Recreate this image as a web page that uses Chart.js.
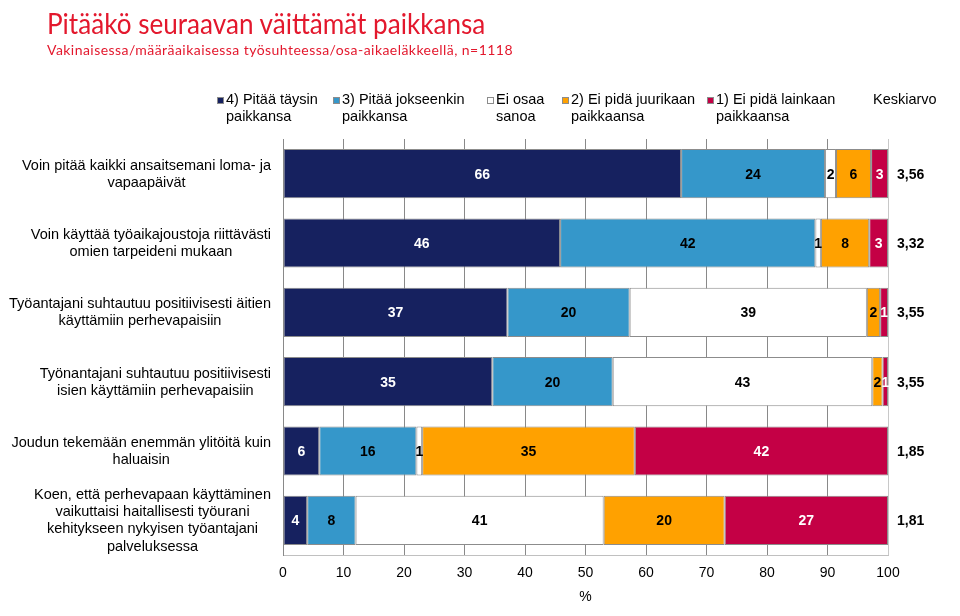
<!DOCTYPE html>
<html>
<head>
<meta charset="utf-8">
<script src="https://cdn.jsdelivr.net/npm/chart.js@4.4.0/dist/chart.umd.min.js"></script>
<style>
  body { margin: 0; background: #fff; }
  #wrap { position: relative; width: 960px; height: 616px; }
  #title { position: absolute; left: 47px; top: 5px; font-family: Lato, sans-serif; font-size: 29px; color: #e3182d; white-space: nowrap; transform: scaleX(0.9); transform-origin: left top; }
  #subtitle { position: absolute; left: 47px; top: 41px; font-family: Lato, sans-serif; font-size: 14px; letter-spacing: 0.45px; color: #e3182d; white-space: nowrap; }
</style>
</head>
<body>
<div id="wrap">
  <canvas id="chart"></canvas>
  <div id="title">Pitääkö seuraavan väittämät paikkansa</div>
  <div id="subtitle">Vakinaisessa/määräaikaisessa työsuhteessa/osa-aikaeläkkeellä, n=1118</div>
</div>
<script>
// statements (y categories), split into lines as in the picture
const statements = [
  ['Voin pitää kaikki ansaitsemani loma- ja', 'vapaapäivät'],
  ['Voin käyttää työaikajoustoja riittävästi', 'omien tarpeideni mukaan'],
  ['Työantajani suhtautuu positiivisesti äitien', 'käyttämiin perhevapaisiin'],
  ['Työnantajani suhtautuu positiivisesti', 'isien käyttämiin perhevapaisiin'],
  ['Joudun tekemään enemmän ylitöitä kuin', 'haluaisin'],
  ['Koen, että perhevapaan käyttäminen', 'vaikuttaisi haitallisesti työurani', 'kehitykseen nykyisen työantajani', 'palveluksessa']
];

const seriesNames = [
  ['4) Pitää täysin', 'paikkansa'],
  ['3) Pitää jokseenkin', 'paikkansa'],
  ['Ei osaa', 'sanoa'],
  ['2) Ei pidä juurikaan', 'paikkaansa'],
  ['1) Ei pidä lainkaan', 'paikkaansa']
];

// percentages
const taysin     = [65.8, 45.8, 37.1, 34.6, 6.0, 4.0];
const jokseenkin = [23.8, 42.2, 20.2, 19.9, 16.05, 8.0];
const eiOsaa     = [1.8, 0.9, 39.2, 42.9, 0.95, 41.0];
const juurikaan  = [5.8, 8.0, 2.2, 1.7, 35.15, 20.0];
const lainkaan   = [2.8, 3.1, 1.3, 0.9, 41.85, 27.0];

const keskiarvo = ['3,56', '3,32', '3,55', '3,55', '1,85', '1,81'];
const keskiarvoTitle = 'Keskiarvo';

const colors = ['#16215f', '#3597ca', '#ffffff', '#ffa100', '#c40045'];
const labelColors = ['#fff', '#000', '#000', '#000', '#fff'];

const FONT = '"Liberation Sans", Arial, sans-serif';

const extras = {
  id: 'extras',
  afterDatasetsDraw(chart) {
    const ctx = chart.ctx;
    const yScale = chart.scales.y;
    ctx.save();

    // values in bars
    ctx.font = 'bold 14px ' + FONT;
    ctx.textAlign = 'center';
    ctx.textBaseline = 'middle';
    chart.data.datasets.forEach((ds, i) => {
      const meta = chart.getDatasetMeta(i);
      meta.data.forEach((bar, j) => {
        ctx.fillStyle = labelColors[i];
        ctx.fillText(Math.round(ds.data[j]), (bar.x + bar.base) / 2, bar.y + 1);
      });
    });

    // mean values
    ctx.textAlign = 'left';
    ctx.fillStyle = '#000';
    keskiarvo.forEach((k, j) => {
      ctx.fillText(k, chart.chartArea.right + 9, yScale.getPixelForValue(j) + 1);
    });

    // category labels: block right aligned, lines centred
    ctx.font = '14.5px ' + FONT;
    ctx.textAlign = 'center';
    statements.forEach((lines, j) => {
      const w = Math.max(...lines.map(l => ctx.measureText(l).width));
      const cx = 271 - w / 2;
      const cy = yScale.getPixelForValue(j) + 0.5;
      lines.forEach((l, k) => {
        ctx.fillText(l, cx, cy + (k - (lines.length - 1) / 2) * 17.3);
      });
    });

    // legend
    const markerX = [217, 333, 487, 562, 707];
    ctx.textAlign = 'left';
    ctx.textBaseline = 'alphabetic';
    seriesNames.forEach((lines, i) => {
      ctx.fillStyle = colors[i];
      ctx.fillRect(markerX[i], 97.5, 6, 6);
      ctx.strokeStyle = '#8c8c8c';
      ctx.lineWidth = 1;
      ctx.strokeRect(markerX[i] + 0.5, 97.5, 6, 6);
      ctx.fillStyle = '#000';
      lines.forEach((l, k) => ctx.fillText(l, markerX[i] + 9, 104 + k * 17.3));
    });
    ctx.fillText(keskiarvoTitle, 873, 104);

    ctx.restore();
  }
};

new Chart(document.getElementById('chart'), {
  type: 'bar',
  data: {
    labels: statements,
    datasets: [taysin, jokseenkin, eiOsaa, juurikaan, lainkaan].map((d, i) => ({
      label: seriesNames[i].join(' '),
      data: d,
      backgroundColor: colors[i],
      borderColor: '#8c8c8c',
      borderWidth: 1,
      borderSkipped: false,
      categoryPercentage: 1,
      barPercentage: 0.71
    }))
  },
  options: {
    indexAxis: 'y',
    responsive: true,
    maintainAspectRatio: false,
    animation: false,
    layout: { padding: { left: 283, right: 72, top: 139, bottom: 0 } },
    plugins: { legend: { display: false }, tooltip: { enabled: false } },
    scales: {
      x: {
        stacked: true,
        min: 0,
        max: 100,
        afterFit: (s) => { s.height = 61; },
        ticks: { stepSize: 10, color: '#000', padding: 10, font: { family: FONT, size: 14 } },
        grid: {
          drawTicks: false,
          color: (c) => (c.tick && c.tick.value === 100 ? '#c8c8c8' : '#898989')
        },
        border: { color: '#c0c0c0' },
        title: { display: true, text: '%', color: '#000', font: { family: FONT, size: 14 }, padding: { top: 0, bottom: 10 } }
      },
      y: {
        stacked: true,
        afterFit: (s) => { s.width = 0; },
        ticks: { display: false },
        grid: { display: false },
        border: { color: '#898989' }
      }
    }
  },
  plugins: [extras]
});
</script>
</body>
</html>
